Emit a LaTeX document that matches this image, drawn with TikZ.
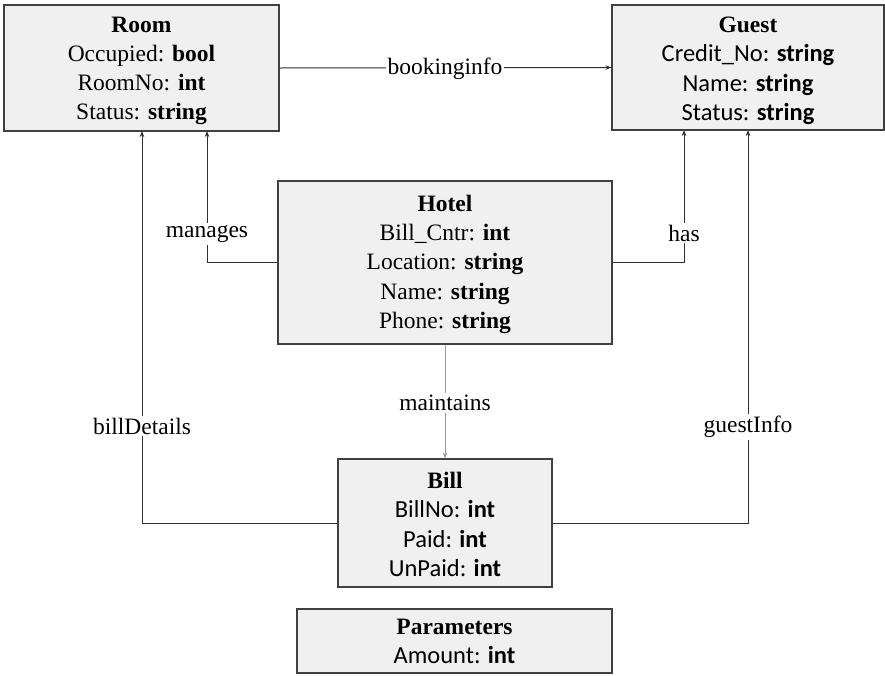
\documentclass[tikz,border=0pt]{standalone}
\usepackage{fontspec}
\setmainfont{Liberation Serif}
\newfontfamily\calib{Carlito}
\usetikzlibrary{arrows.meta}

\definecolor{boxfill}{HTML}{F0F0F0}
\definecolor{boxline}{HTML}{404040}
\definecolor{wire}{HTML}{303030}
\definecolor{lightwire}{HTML}{9A9A9A}

% sans attribute line used in some classes
\newcommand{\sansrow}[1]{{\calib\fontsize{24.5}{29.2}\selectfont #1}}
% invisible strut that lowers a class text block a little
\newcommand{\toppad}[1]{\rule{0pt}{#1}}

\tikzset{
  entity/.style={draw=boxline, line width=1.1pt, fill=boxfill, rectangle,
    inner sep=0pt, align=center, font=\fontsize{23.5}{29.2}\selectfont},
  conn/.style={draw=wire, line width=1pt, -{Stealth[length=6pt,width=4.5pt]}},
  lightconn/.style={draw=lightwire, line width=1pt, -{Stealth[length=6pt,width=4.5pt]}},
  lbl/.style={fill=white, inner sep=2pt, font=\fontsize{23.5}{28}\selectfont}
}

\begin{document}
\begin{tikzpicture}[x=1pt, y=-1pt]
  \useasboundingbox (0,0) rectangle (885,675);

  % classes
  \node[entity, minimum width=275pt, minimum height=126pt] (room) at (141.5,68)
    {\toppad{21.5pt}\textbf{Room}\\Occupied: \textbf{bool}\\RoomNo: \textbf{int}\\Status: \textbf{string}};
  \node[entity, minimum width=272pt, minimum height=125pt] (guest) at (748,67.5)
    {\toppad{22pt}\textbf{Guest}\\\sansrow{Credit\_No: \textbf{string}}\\
     \sansrow{Name: \textbf{string}}\\\sansrow{Status: \textbf{string}}};
  \node[entity, minimum width=334pt, minimum height=163pt] (hotel) at (445,262.5)
    {\toppad{20pt}\textbf{Hotel}\\Bill\_Cntr: \textbf{int}\\Location: \textbf{string}\\Name: \textbf{string}\\Phone: \textbf{string}};
  \node[entity, minimum width=214pt, minimum height=128pt] (bill) at (445,523)
    {\toppad{19pt}\textbf{Bill}\\\sansrow{BillNo: \textbf{int}}\\
     \sansrow{Paid: \textbf{int}}\\\sansrow{UnPaid: \textbf{int}}};
  \node[entity, minimum width=315pt, minimum height=64pt] (params) at (454.5,641)
    {\textbf{Parameters}\\\sansrow{Amount: \textbf{int}}};

  % bend points of the elbow connectors
  \coordinate (manUp)   at (207,131);
  \coordinate (hasUp)   at (684,130);
  \coordinate (billUp)  at (142,131);
  \coordinate (guestUp) at (748,130);

  % connectors
  \draw[conn] (room.east) -- (guest.west);
  \draw[conn] (hotel.west) -| (manUp);
  \draw[conn] (hotel.east) -| (hasUp);
  \draw[conn] (bill.west) -| (billUp);
  \draw[conn] (bill.east) -| (guestUp);
  \draw[lightconn] (hotel.south) -- (bill.north);

  % connector labels
  \node[lbl] (lbBook)  at (445,69)  {bookinginfo};
  \node[lbl] (lbMan)   at (207,234) {manages};
  \node[lbl] (lbHas)   at (684,233) {has};
  \node[lbl] (lbBillD) at (142,426) {billDetails};
  \node[lbl] (lbGuest) at (748,427) {guestInfo};
  \node[lbl] (lbMaint) at (445,403) {maintains};
\end{tikzpicture}
\end{document}
